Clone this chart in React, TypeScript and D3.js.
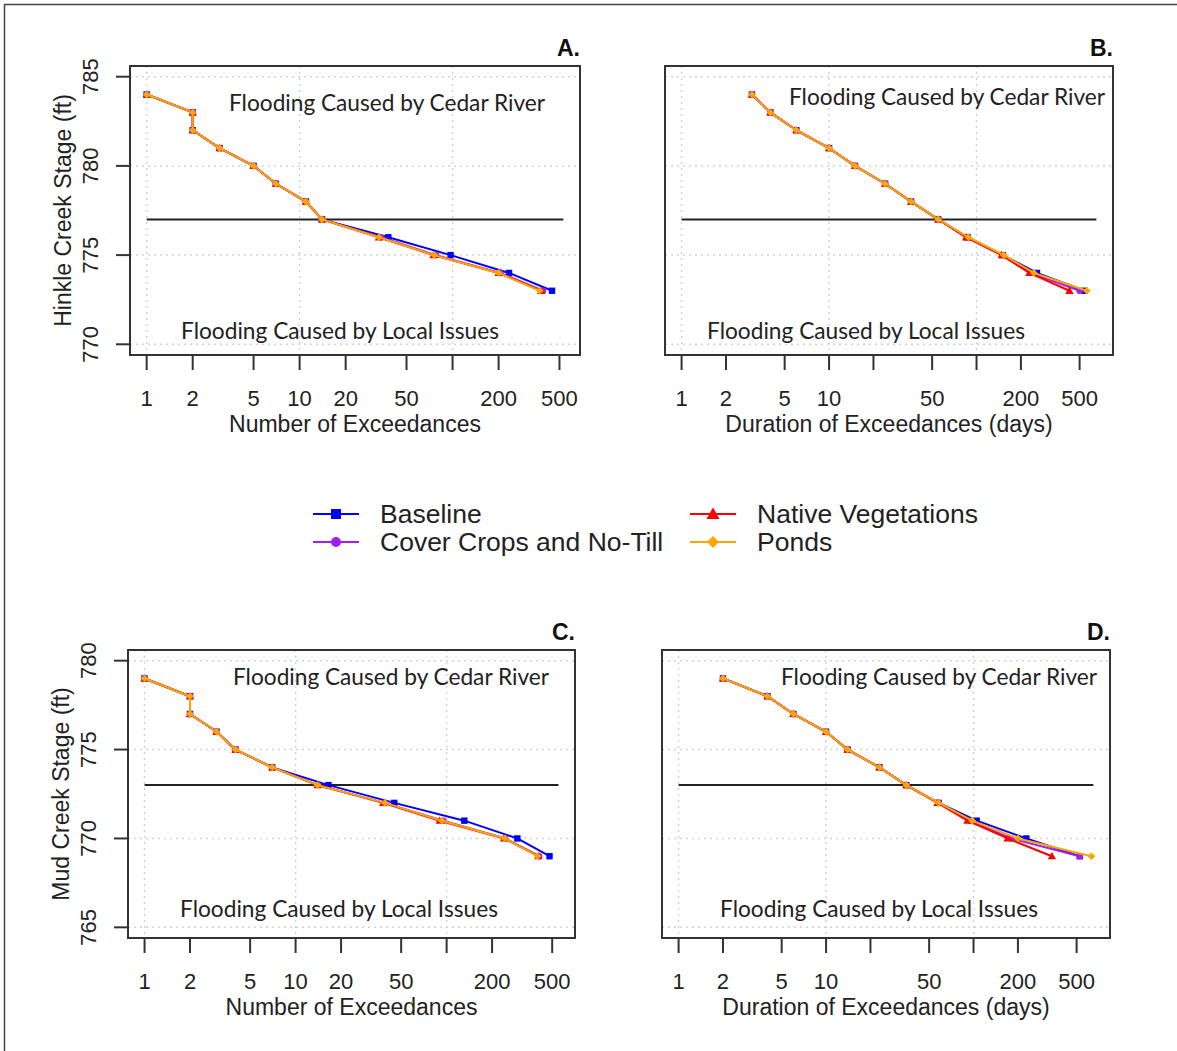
import React from 'react';
import * as d3 from 'd3';

// stage levels (ft)
const hinkleStages = [784, 783, 782, 781, 780, 779, 778, 777, 776, 775, 774, 773];
const mudStages = [779, 778, 777, 776, 775, 774, 773, 772, 771, 770, 769];

// panel A: number of exceedances, Hinkle Creek
const aBaseline = [1, 2, 2, 3, 5, 7, 11, 14, 38, 97, 234, 447];
const aCover = [1, 2, 2, 3, 5, 7, 11, 14, 34, 78, 205, 390];
const aNative = [1, 2, 2, 3, 5, 7, 11, 14, 33, 75, 200, 380];
const aPonds = [1, 2, 2, 3, 5, 7, 11, 14, 33, 76, 200, 372];

// panel B: duration of exceedances (days), Hinkle Creek
const bBaseline = [3, 4, 6, 10, 15, 24, 36, 55, 87, 151, 257, 540];
const bCover = [3, 4, 6, 10, 15, 24, 36, 55, 86, 150, 232, 500];
const bNative = [3, 4, 6, 10, 15, 24, 36, 55, 85, 148, 228, 427];
const bPonds = [3, 4, 6, 10, 15, 24, 36, 55, 88, 153, 245, 560];

// panel C: number of exceedances, Mud Creek
const cBaseline = [1, 2, 2, 3, 4, 7, 16.5, 45, 131, 294, 480];
const cCover = [1, 2, 2, 3, 4, 7, 14, 39, 95, 245, 410];
const cNative = [1, 2, 2, 3, 4, 7, 14, 38, 90, 240, 405];
const cPonds = [1, 2, 2, 3, 4, 7, 14, 39, 93, 243, 400];

// panel D: duration of exceedances (days), Mud Creek
const dBaseline = [2, 4, 6, 10, 14, 23, 35, 58, 105, 228, 525];
const dCover = [2, 4, 6, 10, 14, 23, 35, 58, 95, 180, 525];
const dNative = [2, 4, 6, 10, 14, 23, 35, 57, 91, 170, 340];
const dPonds = [2, 4, 6, 10, 14, 23, 35, 58, 98, 200, 630];

const seriesNames = ['Baseline', 'Cover Crops and No-Till', 'Native Vegetations', 'Ponds'];
const seriesColors = ['#0000ff', '#a020f0', '#ff0000', '#ffa500'];
const seriesShapes = ['square', 'circle', 'triangle', 'diamond'];

const xTicks = [1, 2, 5, 10, 20, 50, 100, 200, 500];
const xLabelsNumber = ['1', '2', '5', '10', '20', '50', '', '200', '500'];
const xLabelsDuration = ['1', '2', '5', '10', '', '50', '', '200', '500'];
const xGrid = [1, 10, 100];
const hinkleTicks = [770, 775, 780, 785];
const mudTicks = [765, 770, 775, 780];

const panels = [
  { id: 'A.', box: [130, 580, 66, 355], xlim: [1, 530], ylim: [770, 785], yTicks: hinkleTicks,
    stages: hinkleStages, series: [aBaseline, aCover, aNative, aPonds], threshold: 777,
    xLabels: xLabelsNumber, xTitle: 'Number of Exceedances', yTitle: 'Hinkle Creek Stage (ft)',
    cedar: [387, 111], local: [340, 339] },
  { id: 'B.', box: [665, 1113, 66, 355], xlim: [1, 650], ylim: [770, 785], yTicks: hinkleTicks,
    stages: hinkleStages, series: [bBaseline, bCover, bNative, bPonds], threshold: 777,
    xLabels: xLabelsDuration, xTitle: 'Duration of Exceedances (days)', yTitle: null,
    cedar: [947, 105], local: [866, 339] },
  { id: 'C.', box: [128, 575, 650, 938], xlim: [1, 550], ylim: [765, 780], yTicks: mudTicks,
    stages: mudStages, series: [cBaseline, cCover, cNative, cPonds], threshold: 773,
    xLabels: xLabelsNumber, xTitle: 'Number of Exceedances', yTitle: 'Mud Creek Stage (ft)',
    cedar: [391, 685], local: [339, 917] },
  { id: 'D.', box: [662, 1110, 650, 938], xlim: [1, 650], ylim: [765, 780], yTicks: mudTicks,
    stages: mudStages, series: [dBaseline, dCover, dNative, dPonds], threshold: 773,
    xLabels: xLabelsDuration, xTitle: 'Duration of Exceedances (days)', yTitle: null,
    cedar: [939, 685], local: [879, 917] },
];

const axisFont = '"Liberation Sans", Arial, sans-serif';
const noteFont = 'Lato, "Open Sans", sans-serif';
const ink = '#333';

function Marker({ shape, x, y, color, s = 3.2 }) {
  if (shape === 'square') return <rect x={x - s} y={y - s} width={2 * s} height={2 * s} fill={color} />;
  if (shape === 'circle') return <circle cx={x} cy={y} r={s} fill={color} />;
  if (shape === 'triangle') {
    const t = s * 1.3;
    return <path d={`M${x},${y - t}L${x + t},${y + t * 0.75}L${x - t},${y + t * 0.75}Z`} fill={color} />;
  }
  const t = s * 1.2;
  return <path d={`M${x},${y - t}L${x + t},${y}L${x},${y + t}L${x - t},${y}Z`} fill={color} />;
}

function Panel({ p }) {
  const [x0, x1, y0, y1] = p.box;
  // R-style 4% axis extension
  const lx = [Math.log10(p.xlim[0]), Math.log10(p.xlim[1])];
  const ex = (lx[1] - lx[0]) * 0.04;
  const x = d3.scaleLog().domain([10 ** (lx[0] - ex), 10 ** (lx[1] + ex)]).range([x0, x1]);
  const ey = (p.ylim[1] - p.ylim[0]) * 0.04;
  const y = d3.scaleLinear().domain([p.ylim[0] - ey, p.ylim[1] + ey]).range([y1, y0]);
  const line = d3.line<number>().x((d) => x(d)).y((_, i) => y(p.stages[i]));

  return (
    <g>
      {/* dotted grid */}
      {xGrid.map((g) => (
        <line key={'gx' + g} x1={x(g)} x2={x(g)} y1={y0} y2={y1} stroke="#d3d3d3" strokeWidth={1.5} strokeDasharray="2 4" />
      ))}
      {p.yTicks.map((g) => (
        <line key={'gy' + g} x1={x0} x2={x1} y1={y(g)} y2={y(g)} stroke="#d3d3d3" strokeWidth={1.5} strokeDasharray="2 4" />
      ))}

      {/* threshold line */}
      <line x1={x(p.xlim[0])} x2={x(p.xlim[1])} y1={y(p.threshold)} y2={y(p.threshold)} stroke="#222" strokeWidth={2} />

      {/* series */}
      {p.series.map((vals, si) => (
        <g key={si}>
          <path d={line(vals)} fill="none" stroke={seriesColors[si]} strokeWidth={2} />
          {vals.map((v, i) => (
            <Marker key={i} shape={seriesShapes[si]} x={x(v)} y={y(p.stages[i])} color={seriesColors[si]} />
          ))}
        </g>
      ))}

      {/* box */}
      <rect x={x0} y={y0} width={x1 - x0} height={y1 - y0} fill="none" stroke={ink} strokeWidth={2} />

      {/* x axis */}
      <line x1={x(xTicks[0])} x2={x(xTicks[xTicks.length - 1])} y1={y1} y2={y1} stroke={ink} strokeWidth={2} />
      {xTicks.map((t, i) => (
        <g key={'xt' + t}>
          <line x1={x(t)} x2={x(t)} y1={y1} y2={y1 + 15} stroke={ink} strokeWidth={2} />
          <text x={x(t)} y={y1 + 51} textAnchor="middle" fontFamily={axisFont} fontSize={22} fill="#222">
            {p.xLabels[i]}
          </text>
        </g>
      ))}
      <text x={(x0 + x1) / 2} y={y1 + 77} textAnchor="middle" fontFamily={axisFont} fontSize={23} fill="#222">
        {p.xTitle}
      </text>

      {/* y axis (left panels only) */}
      {p.yTitle && (
        <g>
          <line x1={x0} x2={x0} y1={y(p.yTicks[0])} y2={y(p.yTicks[p.yTicks.length - 1])} stroke={ink} strokeWidth={2} />
          {p.yTicks.map((t) => (
            <g key={'yt' + t}>
              <line x1={x0 - 14} x2={x0} y1={y(t)} y2={y(t)} stroke={ink} strokeWidth={2} />
              <text transform={`translate(${x0 - 32},${y(t)}) rotate(-90)`} textAnchor="middle" fontFamily={axisFont} fontSize={22} fill="#222">
                {t}
              </text>
            </g>
          ))}
          <text transform={`translate(${x0 - 59},${(y0 + y1) / 2}) rotate(-90)`} textAnchor="middle" fontFamily={axisFont} fontSize={23} fill="#222">
            {p.yTitle}
          </text>
        </g>
      )}

      {/* annotations */}
      <text x={p.cedar[0]} y={p.cedar[1]} textAnchor="middle" fontFamily={noteFont} fontSize={23} fill="#222"
        textLength={316} lengthAdjust="spacingAndGlyphs">
        Flooding Caused by Cedar River
      </text>
      <text x={p.local[0]} y={p.local[1]} textAnchor="middle" fontFamily={noteFont} fontSize={23} fill="#222"
        textLength={318} lengthAdjust="spacingAndGlyphs">
        Flooding Caused by Local Issues
      </text>

      {/* panel letter */}
      <text x={x1} y={y0 - 10} textAnchor="end" fontFamily={axisFont} fontWeight="bold" fontSize={23} fill="#111">
        {p.id}
      </text>
    </g>
  );
}

function Legend() {
  const cols = [313, 690];
  const rows = [514, 542];
  return (
    <g>
      {seriesNames.map((name, i) => {
        const cx = cols[Math.floor(i / 2)];
        const cy = rows[i % 2];
        return (
          <g key={name}>
            <line x1={cx} x2={cx + 46} y1={cy} y2={cy} stroke={seriesColors[i]} strokeWidth={2} />
            <Marker shape={seriesShapes[i]} x={cx + 23} y={cy} color={seriesColors[i]} s={5} />
            <text x={cx + 67} y={cy + 9} fontFamily={axisFont} fontSize={26.5} fill="#222">
              {name}
            </text>
          </g>
        );
      })}
    </g>
  );
}

export default function App() {
  return (
    <div style={{ background: 'white' }}>
      <svg width={1177} height={1051} style={{ position: 'absolute', left: 0, top: 0, background: 'white' }}>
        <path d="M4.5,1051V4.5H1177" fill="none" stroke="#444" strokeWidth={1.5} />
        {panels.map((p) => (
          <Panel key={p.id} p={p} />
        ))}
        <Legend />
      </svg>
    </div>
  );
}
